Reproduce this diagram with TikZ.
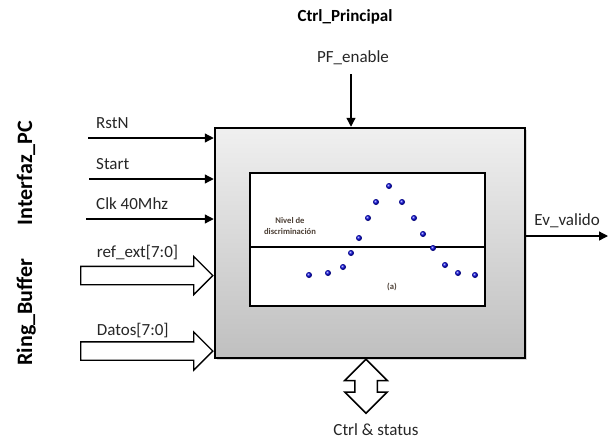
\documentclass[tikz,border=0pt]{standalone}
\usepackage{fontspec}
\setmainfont{Carlito}
\usepackage{tikz}
\usetikzlibrary{shapes,arrows.meta,shadows,positioning,calc}
\definecolor{textonota}{HTML}{4D4036}
\tikzstyle{bloque} = [rectangle, draw, line width=2.5pt, top color=gray!12, bottom color=gray!50, minimum width=310pt, minimum height=230pt, drop shadow={opacity=0.3, shadow xshift=2pt, shadow yshift=-2pt}]
\tikzstyle{grafica} = [rectangle, draw, line width=1.8pt, fill=white, minimum width=235pt, minimum height=133pt]
\tikzstyle{senal} = [draw, line width=1.3pt, -{Triangle[length=9pt,width=9pt]}]
\tikzstyle{bus} = [single arrow, draw, fill=white, line width=1.3pt, single arrow head extend=10pt, inner xsep=2pt, inner ysep=8.5pt, minimum height=132pt]
\tikzstyle{bidir} = [double arrow, draw, fill=white, line width=1.5pt, double arrow head extend=10pt, inner xsep=2pt, inner ysep=10.5pt, minimum height=54pt, rotate=90]
\tikzstyle{etiqueta} = [font=\fontsize{17}{20}\selectfont, text=black!85, inner sep=2pt, text height=12pt, text depth=4pt]
\tikzstyle{titulo} = [font=\fontsize{17}{20}\selectfont\bfseries, inner sep=2pt]
\tikzstyle{lateral} = [font=\fontsize{22}{26}\selectfont\bfseries, inner sep=2pt, text height=14pt, text depth=0pt, rotate=90]
\tikzstyle{nota} = [font=\bfseries\fontsize{8.6}{11}\selectfont, text=textonota, align=center, inner sep=1pt]
\tikzstyle{punto} = [circle, inner sep=0pt, minimum size=6pt, ball color=blue!85!black]

\begin{document}
\begin{tikzpicture}[x=1pt, y=-1pt]
\useasboundingbox (0,0) rectangle (608,440);

\node [bloque] (modulo) at (370,243) {};
\node [grafica] (grafica) at (367.5,239.5) {};
\draw [line width=1.2pt] ([yshift=-7.5pt]grafica.west) -- ([yshift=-7.5pt]grafica.east);
\node [nota] (nivel) at (290,226) {Nivel de\\discriminación};
\node [nota] (leyenda) at (392,287) {(a)};

\node [punto] (p1) at (309,275) {};
\node [punto] (p2) at (328,273) {};
\node [punto] (p3) at (343,267) {};
\node [punto] (p4) at (351,253) {};
\node [punto] (p5) at (359,238) {};
\node [punto] (p6) at (368,218) {};
\node [punto] (p7) at (376,202) {};
\node [punto] (p8) at (389,186) {};
\node [punto] (p9) at (402,202) {};
\node [punto] (p10) at (414,218) {};
\node [punto] (p11) at (423,234) {};
\node [punto] (p12) at (433,248) {};
\node [punto] (p13) at (445,265) {};
\node [punto] (p14) at (458,273) {};
\node [punto] (p15) at (475,275) {};

\node [titulo] (ctrlp) at (345,17) {Ctrl\_Principal};
\node [etiqueta] (pfen) at (353,58.5) {PF\_enable};
\coordinate (pfin) at (351,74);

\node [lateral] (interfaz) at (25,173) {Interfaz\_PC};
\node [lateral] (ring) at (25,312) {Ring\_Buffer};

\coordinate (rstin) at (88,138);
\coordinate (startin) at (89,179);
\coordinate (clkin) at (86,219);
\coordinate (refin) at (83,275.5);
\coordinate (datosin) at (83,351);
\node [etiqueta, above right=3.5pt and 6pt of rstin] (rstn) {RstN};
\node [etiqueta, above right=3.5pt and 5pt of startin] (start) {Start};
\node [etiqueta, above right=3.5pt and 8pt of clkin] (clk) {Clk 40Mhz};
\node [etiqueta, above right=12pt and 11.7pt of refin] (ref) {ref\_ext[7:0]};
\node [etiqueta, above right=9pt and 11.7pt of datosin] (datos) {Datos[7:0]};
\node [bus, anchor=tip] (refbus) at (modulo.west |- refin) {};
\node [bus, anchor=tip] (datosbus) at (modulo.west |- datosin) {};

\coordinate (evout) at (608,236);
\node [etiqueta, above left=4pt and 6pt of evout] (ev) {Ev\_valido};

\node [bidir] (ctrlbus) at ($(modulo.south)+(-4,27)$) {};
\node [etiqueta] (ctrlst) at (376,431.5) {Ctrl \& status};

\path[senal] (pfin) -- (pfin |- modulo.north);
\path[senal] (rstin) -- (rstin -| modulo.west);
\path[senal] (startin) -- (startin -| modulo.west);
\path[senal] (clkin) -- (clkin -| modulo.west);
\path[senal] (modulo.east |- evout) -- (evout);
\end{tikzpicture}
\end{document}
